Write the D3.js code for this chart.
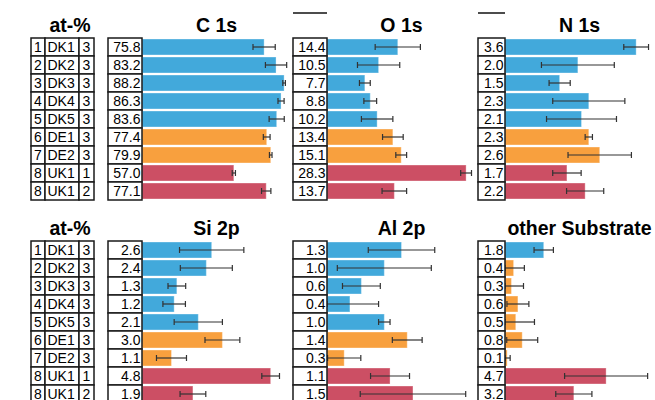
<!DOCTYPE html>
<html>
<head>
<meta charset="utf-8">
<script src="https://cdn.jsdelivr.net/npm/d3@7"></script>
<style>
  body { margin: 0; background: #fff; }
  text { font-family: "Liberation Sans", Arial, Helvetica, sans-serif; fill: #000; }
</style>
</head>
<body>
<svg id="chart" width="655" height="400"></svg>
<script>
// Sample table
const sampleIds = [1, 2, 3, 4, 5, 6, 7, 8, 8];
const sites = ["DK1", "DK2", "DK3", "DK4", "DK5", "DE1", "DE2", "UK1", "UK1"];
const replicates = [3, 3, 3, 3, 3, 3, 3, 1, 2];
const siteGroups = ["DK", "DK", "DK", "DK", "DK", "DE", "DE", "UK", "UK"];
const substrateGroups = ["DK", "DE", "DE", "DE", "DE", "DE", "DE", "UK", "UK"];

// Atomic percentages (mean) and spread per element line
const panelTitles = ["C 1s", "O 1s", "N 1s", "Si 2p", "Al 2p", "other Substrate"];
const c1s = [75.8, 83.2, 88.2, 86.3, 83.6, 77.4, 79.9, 57.0, 77.1];
const c1sErr = [6.9, 6.6, 0.8, 1.9, 4.7, 2.1, 0.8, 1.0, 2.9];
const o1s = [14.4, 10.5, 7.7, 8.8, 10.2, 13.4, 15.1, 28.3, 13.7];
const o1sErr = [4.6, 4.3, 1.1, 1.3, 3.2, 2.1, 1.1, 1.1, 2.5];
const n1s = [3.6, 2.0, 1.5, 2.3, 2.1, 2.3, 2.6, 1.7, 2.2];
const n1sErr = [0.34, 1.0, 0.29, 0.99, 0.96, 0.1, 0.87, 0.39, 0.51];
const si2p = [2.6, 2.4, 1.3, 1.2, 2.1, 3.0, 1.1, 4.8, 1.9];
const si2pErr = [1.2, 0.97, 0.33, 0.42, 0.9, 0.65, 0.56, 0.33, 0.48];
const al2p = [1.3, 1.0, 0.6, 0.4, 1.0, 1.4, 0.3, 1.1, 1.5];
const al2pErr = [0.58, 0.82, 0.33, 0.5, 0.1, 0.26, 0.29, 0.34, 0.92];
const otherSub = [1.8, 0.4, 0.3, 0.6, 0.5, 0.8, 0.1, 4.7, 3.2];
const otherSubErr = [0.45, 0.5, 0.56, 0.51, 0.87, 0.72, 0.14, 1.93, 0.84];
const axisMax = [90, 29.5, 3.98, 5.41, 2.53, 6.74];

const panels = [
  { title: panelTitles[0], values: c1s, errors: c1sErr, groups: siteGroups, max: axisMax[0] },
  { title: panelTitles[1], values: o1s, errors: o1sErr, groups: siteGroups, max: axisMax[1] },
  { title: panelTitles[2], values: n1s, errors: n1sErr, groups: siteGroups, max: axisMax[2] },
  { title: panelTitles[3], values: si2p, errors: si2pErr, groups: siteGroups, max: axisMax[3] },
  { title: panelTitles[4], values: al2p, errors: al2pErr, groups: siteGroups, max: axisMax[4] },
  { title: panelTitles[5], values: otherSub, errors: otherSubErr, groups: substrateGroups, max: axisMax[5] }
];

const color = d3.scaleOrdinal()
  .domain(["DK", "DE", "UK"])
  .range(["#42a9db", "#f8a03e", "#cc4f64"]);

const svg = d3.select("#chart");

// Layout
const blockTops = [38, 241];
const rowH = 18;
const valueCells = [{ x: 108, w: 34 }, { x: 293, w: 34 }, { x: 478, w: 27 }];
const barSpan = 145;
const tableCells = [{ x: 31, w: 14 }, { x: 45, w: 34 }, { x: 79, w: 15 }];
const cellStroke = "#1a1a1a";
const titleSize = "19.5px";

blockTops.forEach((top, b) => {
  const y = d3.scaleBand().domain(d3.range(sampleIds.length))
    .range([top, top + rowH * sampleIds.length]);

  // sample table
  const tbl = svg.append("g");
  tbl.append("text")
    .attr("x", 70).attr("y", top - 6)
    .attr("text-anchor", "middle")
    .style("font-size", titleSize).style("font-weight", "bold")
    .text("at-%");

  const cols = [sampleIds, sites, replicates];
  cols.forEach((col, c) => {
    const cell = tableCells[c];
    tbl.selectAll(null).data(col).join("rect")
      .attr("x", cell.x).attr("y", (d, i) => y(i))
      .attr("width", cell.w).attr("height", y.bandwidth())
      .attr("fill", "#fff").attr("stroke", cellStroke).attr("stroke-width", 1.5);
    tbl.selectAll(null).data(col).join("text")
      .attr("x", c === 1 ? cell.x + 2.5 : cell.x + cell.w / 2)
      .attr("y", (d, i) => y(i) + 14)
      .attr("text-anchor", c === 1 ? "start" : "middle")
      .style("font-size", "14px")
      .text(d => d);
  });

  // element panels
  for (let p = 0; p < 3; p++) {
    const panel = panels[b * 3 + p];
    const vc = valueCells[p];
    const x0 = vc.x + vc.w;
    const x = d3.scaleLinear().domain([0, panel.max]).range([x0, x0 + barSpan]);
    const g = svg.append("g");

    if (b === 0 && p > 0) {
      g.append("line")
        .attr("x1", vc.x).attr("x2", x0)
        .attr("y1", 13).attr("y2", 13)
        .attr("stroke", "#111").attr("stroke-width", 1.5);
    }

    g.append("text")
      .attr("x", x0 + barSpan / 2 + 2).attr("y", top - 6)
      .attr("text-anchor", "middle")
      .style("font-size", titleSize).style("font-weight", "bold")
      .text(panel.title);

    g.selectAll(null).data(panel.values).join("rect")
      .attr("x", x(0))
      .attr("y", (d, i) => y(i) + 1)
      .attr("width", d => x(d) - x(0))
      .attr("height", y.bandwidth() - 2)
      .attr("fill", (d, i) => color(panel.groups[i]))
      .attr("stroke", "#fff").attr("stroke-opacity", 0.35).attr("stroke-width", 1);

    const errs = panel.values.map((v, i) => ({
      lo: Math.max(0, v - panel.errors[i]),
      hi: v + panel.errors[i],
      cy: y(i) + y.bandwidth() / 2
    }));
    const eg = g.append("g").attr("stroke", "#333").attr("stroke-width", 1.2);
    eg.selectAll(null).data(errs).join("line")
      .attr("x1", d => x(d.lo)).attr("x2", d => x(d.hi))
      .attr("y1", d => d.cy).attr("y2", d => d.cy);
    eg.selectAll(null).data(errs).join("path")
      .attr("fill", "none")
      .attr("d", d => `M${x(d.lo)},${d.cy - 3}V${d.cy + 3}M${x(d.hi)},${d.cy - 3}V${d.cy + 3}`);

    g.selectAll(null).data(panel.values).join("rect")
      .attr("x", vc.x).attr("y", (d, i) => y(i))
      .attr("width", vc.w).attr("height", y.bandwidth())
      .attr("fill", "#fff").attr("stroke", cellStroke).attr("stroke-width", 1.5);
    g.selectAll(null).data(panel.values).join("text")
      .attr("x", x0 - 1.5)
      .attr("y", (d, i) => y(i) + 14)
      .attr("text-anchor", "end")
      .style("font-size", "14px")
      .text(d => d.toFixed(1));
  }
});
</script>
</body>
</html>
